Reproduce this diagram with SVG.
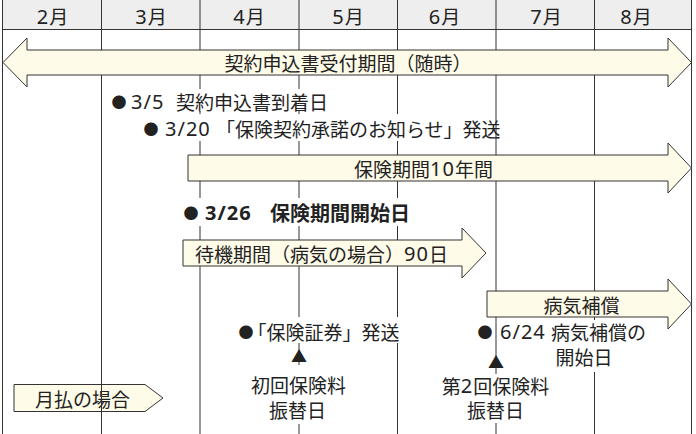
<svg xmlns="http://www.w3.org/2000/svg" width="696" height="434" viewBox="0 0 696 434">
<defs>
<style>
.t{font-family:"Noto Sans CJK JP","Noto Sans",sans-serif;font-size:19px;fill:#222;dominant-baseline:central}
.m{text-anchor:middle}
.b{font-weight:bold;font-size:20px}
.n{font-family:"Noto Sans","Noto Sans CJK JP",sans-serif;font-size:20px;letter-spacing:1px}
.dot{font-size:15px}
.dk{letter-spacing:-6px}
.tri{font-size:16px}
.g{stroke:#333;stroke-width:1;fill:none}
.ar{fill:#fffbe9;stroke:#333;stroke-width:1}
.bg{fill:#fff}
</style>
</defs>
<rect x="2.5" y="0" width="689" height="29.5" fill="#eee"/>
<g id="monthly">
<polygon class="ar" points="14,384.5 145,384.5 163,398 145,411.5 14,411.5"/>
<text class="t m" x="82.5" y="398">月払の場合</text>
</g>
<g id="grid" class="g">
<line x1="2.5" y1="0" x2="2.5" y2="434"/>
<line x1="101.5" y1="0" x2="101.5" y2="434"/>
<line x1="200" y1="0" x2="200" y2="434"/>
<line x1="299" y1="0" x2="299" y2="434"/>
<line x1="397.5" y1="0" x2="397.5" y2="434"/>
<line x1="496" y1="0" x2="496" y2="434"/>
<line x1="594.5" y1="0" x2="594.5" y2="434"/>
<line x1="691.5" y1="0" x2="691.5" y2="434"/>
<line x1="2.5" y1="29.5" x2="691.5" y2="29.5"/>
</g>
<g id="header">
<text class="t m" x="52.5" y="15.5"><tspan class="n">2</tspan>月</text>
<text class="t m" x="151" y="15.5"><tspan class="n">3</tspan>月</text>
<text class="t m" x="249" y="15.5"><tspan class="n">4</tspan>月</text>
<text class="t m" x="348" y="15.5"><tspan class="n">5</tspan>月</text>
<text class="t m" x="444.5" y="15.5"><tspan class="n">6</tspan>月</text>
<text class="t m" x="546" y="15.5"><tspan class="n">7</tspan>月</text>
<text class="t m" x="636" y="15.5"><tspan class="n">8</tspan>月</text>
</g>
<g id="application-period">
<polygon class="ar" points="3,62.5 27,38 27,50 668,50 668,38 691.5,62.5 668,87 668,75 27,75 27,87"/>
<text class="t m" x="348" y="62.5">契約申込書受付期間（随時）</text>
</g>
<g id="arrival">
<rect class="bg" x="107" y="89" width="231" height="22"/>
<text class="t" x="111.5" y="101"><tspan class="dot">●</tspan><tspan class="n" x="131">3/5</tspan><tspan x="176">契約申込書到着日</tspan></text>
</g>
<g id="acceptance">
<rect class="bg" x="140" y="114" width="354" height="27"/>
<text class="t" x="143.5" y="128"><tspan class="dot">●</tspan><tspan class="n" x="165">3/20</tspan><tspan x="216">「保険契約承諾のお知らせ」発送</tspan></text>
</g>
<g id="insurance-period">
<polygon class="ar" points="188,155 668,155 668,143 691.5,168 668,193 668,181 188,181"/>
<text class="t m" x="423.5" y="168">保険期間<tspan class="n">10</tspan>年間</text>
</g>
<g id="start">
<rect class="bg" x="178" y="198" width="236" height="28"/>
<text class="t b" x="183.5" y="212"><tspan class="dot">●</tspan><tspan class="n" x="205">3/26</tspan><tspan x="270">保険期間開始日</tspan></text>
</g>
<g id="waiting">
<polygon class="ar" points="183,240 462,240 462,228 486,253 462,278 462,266 183,266"/>
<text class="t" x="195" y="253">待機期間（病気の場合）<tspan class="n">90</tspan>日</text>
</g>
<g id="illness-cover">
<polygon class="ar" points="487,291 668,291 668,279 691.5,304 668,329 668,317 487,317"/>
<text class="t m" x="581.5" y="304">病気補償</text>
</g>
<g id="policy">
<rect class="bg" x="237" y="317" width="167" height="26"/>
<text class="t" x="238.5" y="331"><tspan class="dot dk">●</tspan>「保険証券」発送</text>
</g>
<g id="first-premium">
<text class="t tri m" x="299" y="355">▲</text>
<rect class="bg" x="248" y="365" width="102" height="59"/>
<text class="t m" x="298.5" y="384">初回保険料</text>
<text class="t m" x="297.5" y="409">振替日</text>
</g>
<g id="illness-start">
<rect class="bg" x="476" y="320" width="16" height="22"/>
<rect class="bg" x="499" y="320" width="148" height="25"/>
<rect class="bg" x="554" y="345" width="60" height="27"/>
<text class="t" x="477.5" y="331"><tspan class="dot">●</tspan><tspan class="n" x="500">6/24</tspan><tspan x="551">病気補償の</tspan></text>
<text class="t m" x="584" y="356">開始日</text>
</g>
<g id="second-premium">
<text class="t tri m" x="496" y="361">▲</text>
<rect class="bg" x="440" y="374" width="112" height="49"/>
<text class="t m" x="495.5" y="385">第<tspan class="n">2</tspan>回保険料</text>
<text class="t m" x="495.5" y="409">振替日</text>
</g>
</svg>
